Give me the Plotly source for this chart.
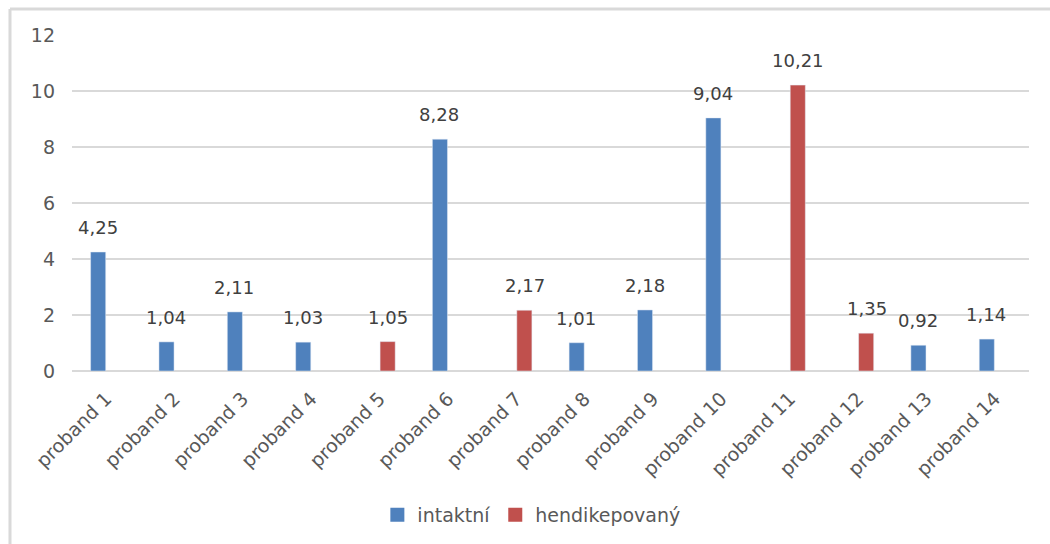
import plotly.graph_objects as go

# Categories and measured values (None where the proband is not in that group)
probandi = [f"proband {i}" for i in range(1, 15)]
intaktni = [4.25, 1.04, 2.11, 1.03, None, 8.28, None, 1.01, 2.18, 9.04, None, None, 0.92, 1.14]
hendikepovany = [None, None, None, None, 1.05, None, 2.17, None, None, None, 10.21, 1.35, None, None]
y_ticks = [0, 2, 4, 6, 8, 10, 12]

BLUE = "#4f81bd"
RED = "#c0504d"
GRID = "#d9d9d9"
FONT = "DejaVu Sans"


def fmt(v):
    return f"{v:.2f}".replace(".", ",")


fig = go.Figure()
fig.add_trace(go.Bar(name="intaktní", x=probandi, y=intaktni, marker_color=BLUE, showlegend=False))
fig.add_trace(go.Bar(name="hendikepovaný", x=probandi, y=hendikepovany, marker_color=RED, showlegend=False))

# square legend keys
for name, color in (("intaktní", BLUE), ("hendikepovaný", RED)):
    fig.add_trace(go.Scatter(
        x=[None], y=[None], mode="markers", name=name,
        marker=dict(symbol="square", size=14, color=color),
    ))

# value labels above each bar (bars sit left/right of the category centre)
annotations = []
for series, shift in ((intaktni, -8.5), (hendikepovany, 8.5)):
    for cat, v in zip(probandi, series):
        if v is None:
            continue
        annotations.append(dict(
            x=cat, y=v, text=fmt(v), showarrow=False, xanchor="center", yanchor="bottom",
            xshift=shift, yshift=12, font=dict(family=FONT, size=18, color="#404040"),
        ))

fig.update_layout(
    width=1050, height=544,
    margin=dict(l=72, r=21, t=35, b=172),
    paper_bgcolor="white", plot_bgcolor="white",
    barmode="group", bargap=0.53, bargroupgap=0.06,
    font=dict(family=FONT, size=18, color="#595959"),
    annotations=annotations,
    legend=dict(
        orientation="h", x=0.48, xanchor="center", y=-0.424, yanchor="middle",
        font=dict(family=FONT, size=19, color="#595959"), itemwidth=30,
        traceorder="normal",
    ),
    shapes=[
        dict(type="line", xref="paper", yref="paper", x0=-0.0648, x1=-0.0648, y0=-0.52, y1=1.0772,
             line=dict(color=GRID, width=3)),
        dict(type="line", xref="paper", yref="paper", x0=-0.0648, x1=1.03, y0=1.0772, y1=1.0772,
             line=dict(color=GRID, width=3)),
    ],
)
fig.update_xaxes(
    tickangle=-45, showgrid=False, showline=False, ticks="",
    ticklabelstandoff=12,
    tickfont=dict(family=FONT, size=19, color="#595959"),
)
fig.update_yaxes(
    range=[0, 12], tickvals=y_ticks, showgrid=True, gridcolor=GRID, gridwidth=1.5,
    zeroline=True, zerolinecolor=GRID, zerolinewidth=1.5, showline=False, ticks="",
    ticklabelstandoff=16, tickfont=dict(family=FONT, size=19, color="#595959"),
)

fig.write_html("out.html")
